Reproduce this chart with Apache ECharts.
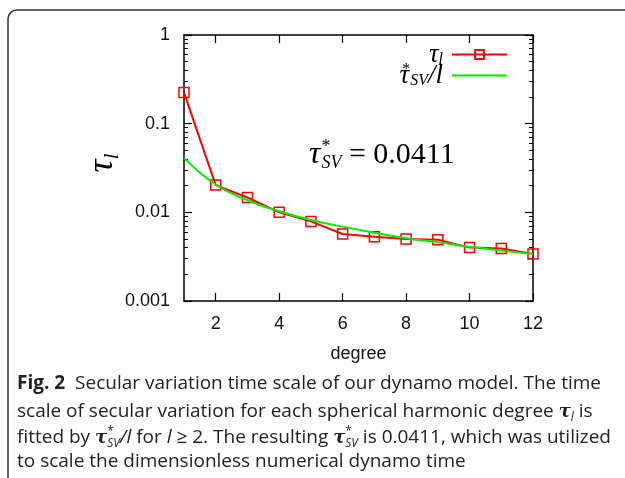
<!DOCTYPE html>
<html>
<head>
<meta charset="utf-8">
<script src="https://cdn.jsdelivr.net/npm/echarts@6/dist/echarts.min.js"></script>
<style>
  html, body { margin: 0; padding: 0; background: #fff; }
  #main { width: 625px; height: 478px; }
</style>
</head>
<body>
<div id="main"></div>
<script>
// spherical harmonic degree l
var degrees = [1, 2, 3, 4, 5, 6, 7, 8, 9, 10, 11, 12];
// secular variation time scale tau_l
var tauL = [0.224, 0.0203, 0.0147, 0.0100, 0.0079, 0.0057, 0.0053, 0.0050, 0.0049, 0.0040, 0.0039, 0.0034];
// fitted curve tau*_SV / l
var tauFit = [0.0411, 0.0206, 0.0137, 0.0103, 0.0082, 0.0069, 0.0059, 0.0051, 0.0046, 0.0041, 0.0037, 0.0034];
var xTicks = [2, 4, 6, 8, 10, 12];
var yMinorTicks = [0.002, 0.003, 0.004, 0.005, 0.006, 0.007, 0.008, 0.009,
                   0.02, 0.03, 0.04, 0.05, 0.06, 0.07, 0.08, 0.09,
                   0.2, 0.3, 0.4, 0.5, 0.6, 0.7, 0.8, 0.9];

var chart = echarts.init(document.getElementById('main'));

var axisColor = '#000';
var labelFont = 'Liberation Sans';
var mathFont = 'Liberation Serif';
var capFont = 'Open Sans';

function pairs(ys) {
    return degrees.map(function (d, i) { return [d, ys[i]]; });
}

var mathRich = {
    m: { fontFamily: mathFont, fontStyle: 'italic', fontSize: 27, color: '#000', lineHeight: 19 },
    sb: { fontFamily: mathFont, fontStyle: 'italic', fontSize: 16, color: '#000', verticalAlign: 'bottom', lineHeight: 19, padding: [0, 0, -4, 0] },
    sp: { fontFamily: mathFont, fontSize: 16, color: '#000', verticalAlign: 'top', lineHeight: 19, width: 0, padding: [-4, 0, 0, 1] }
};

var option = {
    backgroundColor: '#fff',
    animation: false,
    textStyle: { fontFamily: labelFont },
    grid: { left: 184, right: 92, top: 35, bottom: 177, containLabel: false },
    legend: {
        orient: 'vertical',
        right: 117,
        top: 41,
        padding: 0,
        align: 'right',
        itemWidth: 55,
        itemHeight: 11,
        itemGap: -6,
        data: ['tl', { name: 'fit', itemStyle: { opacity: 0 } }],
        formatter: function (name) {
            if (name === 'tl') return '{m|τ}{sb|l}';
            return '{m|τ}{sp|*}{sb|SV}{m|/l}';
        },
        textStyle: { rich: mathRich, padding: [0, 4, 0, 0] }
    },
    xAxis: [{
        type: 'value', min: 1, max: 12, position: 'bottom',
        axisLine: { lineStyle: { color: axisColor, width: 1.5 } },
        axisTick: { inside: true, length: 8, customValues: xTicks, lineStyle: { color: axisColor, width: 1.2 } },
        axisLabel: { customValues: xTicks, fontSize: 18, color: '#111', margin: 14 },
        splitLine: { show: false },
        name: 'degree', nameLocation: 'middle', nameGap: 44,
        nameTextStyle: { fontSize: 18, color: '#111' }
    }, {
        type: 'value', min: 1, max: 12, position: 'top',
        axisLine: { lineStyle: { color: axisColor, width: 1.5 } },
        axisTick: { inside: true, length: 8, customValues: xTicks, lineStyle: { color: axisColor, width: 1.2 } },
        axisLabel: { show: false },
        splitLine: { show: false }
    }],
    yAxis: [{
        type: 'log', logBase: 10, min: 0.001, max: 1, position: 'left',
        axisLine: { show: true, lineStyle: { color: axisColor, width: 1.5 } },
        axisTick: { show: true, inside: true, length: 8, lineStyle: { color: axisColor, width: 1.2 } },
        axisLabel: {
            fontSize: 18, color: '#111', margin: 14,
            formatter: function (v) { return String(+Number(v).toPrecision(2)); }
        },
        splitLine: { show: false }
    }, {
        type: 'log', logBase: 10, min: 0.001, max: 1, position: 'left',
        axisLine: { show: false },
        axisTick: { show: true, inside: true, length: 4, customValues: yMinorTicks, lineStyle: { color: axisColor, width: 1 } },
        axisLabel: { show: false },
        splitLine: { show: false }
    }, {
        type: 'log', logBase: 10, min: 0.001, max: 1, position: 'right',
        axisLine: { show: true, lineStyle: { color: axisColor, width: 1.5 } },
        axisTick: { show: true, inside: true, length: 8, lineStyle: { color: axisColor, width: 1.2 } },
        axisLabel: { show: false },
        splitLine: { show: false }
    }, {
        type: 'log', logBase: 10, min: 0.001, max: 1, position: 'right',
        axisLine: { show: false },
        axisTick: { show: true, inside: true, length: 4, customValues: yMinorTicks, lineStyle: { color: axisColor, width: 1 } },
        axisLabel: { show: false },
        splitLine: { show: false }
    }],
    series: [{
        name: 'tl',
        type: 'line',
        data: pairs(tauL),
        symbol: 'rect',
        symbolSize: 10,
        lineStyle: { color: '#ff0000', width: 2 },
        itemStyle: { color: 'rgba(255,255,255,0)', borderColor: '#ff0000', borderWidth: 1.5 },
        z: 2
    }, {
        name: 'fit',
        type: 'line',
        data: pairs(tauFit),
        smooth: true,
        showSymbol: false,
        symbol: 'none',
        lineStyle: { color: '#00f000', width: 2 },
        itemStyle: { color: '#00f000' },
        z: 3
    }],
    graphic: [{
        type: 'line', shape: { x1: 8, y1: 478, x2: 8, y2: 19 },
        style: { stroke: '#333', lineWidth: 1.5 }
    }, {
        type: 'arc', shape: { cx: 17, cy: 19, r: 9, startAngle: Math.PI, endAngle: Math.PI * 1.5, clockwise: true },
        style: { fill: null, stroke: '#333', lineWidth: 1.5 }
    }, {
        type: 'line', shape: { x1: 17, y1: 10, x2: 625, y2: 10 },
        style: { stroke: '#333', lineWidth: 1.5 }
    }, {
        type: 'text', x: 103, y: 163, rotation: Math.PI / 2,
        style: {
            text: '{m|τ}{s|l}',
            textAlign: 'center', textVerticalAlign: 'middle',
            rich: {
                m: { fontFamily: mathFont, fontStyle: 'italic', fontSize: 36, lineHeight: 40 },
                s: { fontFamily: mathFont, fontStyle: 'italic', fontSize: 22, verticalAlign: 'bottom', lineHeight: 40 }
            }
        }
    }, {
        type: 'text', x: 309, y: 155,
        style: {
            text: '{t|τ}{sp|*}{sb|SV}{m| = 0.0411}',
            textVerticalAlign: 'middle',
            rich: {
                t: { fontFamily: mathFont, fontStyle: 'italic', fontSize: 32, lineHeight: 34 },
                m: { fontFamily: mathFont, fontSize: 30, lineHeight: 34 },
                sp: { fontFamily: mathFont, fontSize: 18, verticalAlign: 'top', lineHeight: 34, width: 0, padding: [0, 0, 0, 1] },
                sb: { fontFamily: mathFont, fontStyle: 'italic', fontSize: 18, verticalAlign: 'bottom', lineHeight: 34 }
            }
        }
    }, {
        type: 'group', left: 17, top: 374,
        children: [
            { type: 'text', x: 0, y: 0, style: { text: '{b|Fig. 2}  Secular variation time scale of our dynamo model. The time', font: '19px "Open Sans"', fill: '#222', rich: { b: { fontWeight: 'bold', fontFamily: capFont, fontSize: 19 } } } },
            { type: 'text', x: 0, y: 26, style: { text: 'scale of secular variation for each spherical harmonic degree {t|τ}{s|l} is', font: '19px "Open Sans"', fill: '#222', rich: { t: { fontFamily: 'DejaVu Serif', fontStyle: 'italic', fontWeight: 'bold', fontSize: 18 }, s: { fontFamily: capFont, fontStyle: 'italic', fontSize: 12, verticalAlign: 'bottom', lineHeight: 24 } } } },
            { type: 'text', x: 0, y: 52, style: { text: 'fitted by {t|τ}{sp|*}{s|SV}{i|/l} for {i|l} ≥ 2. The resulting {t|τ}{sp|*}{s|SV} is 0.0411, which was utilized', font: '19px "Open Sans"', fill: '#222', rich: { t: { fontFamily: 'DejaVu Serif', fontStyle: 'italic', fontWeight: 'bold', fontSize: 18 }, i: { fontFamily: capFont, fontStyle: 'italic', fontSize: 19 }, sp: { fontFamily: capFont, fontSize: 12, verticalAlign: 'top', lineHeight: 24, width: 0 }, s: { fontFamily: capFont, fontStyle: 'italic', fontSize: 12, verticalAlign: 'bottom', lineHeight: 24 } } } },
            { type: 'text', x: 0, y: 78, style: { text: 'to scale the dimensionless numerical dynamo time', font: '19px "Open Sans"', fill: '#222' } }
        ]
    }]
};

chart.setOption(option);
</script>
</body>
</html>
